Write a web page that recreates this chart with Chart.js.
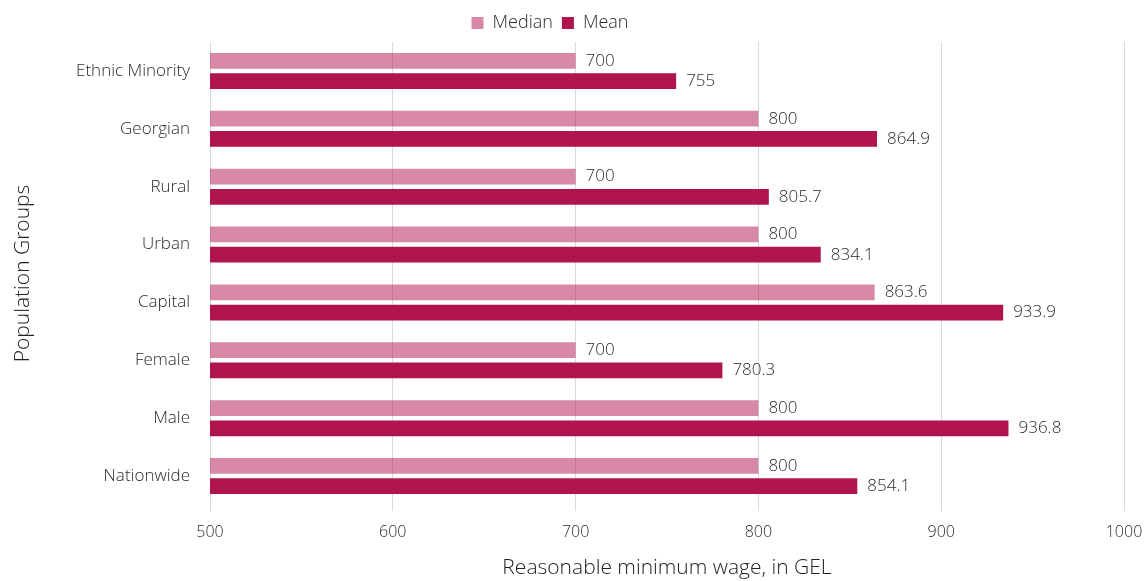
<!DOCTYPE html>
<html>
<head>
<meta charset="utf-8">
<script src="https://cdn.jsdelivr.net/npm/chart.js@4/dist/chart.umd.min.js"></script>
<style>
  html, body { margin: 0; padding: 0; background: #fff; }
  #wrap { width: 1146px; height: 581px; }
</style>
</head>
<body>
<div id="wrap"><canvas id="myChart"></canvas></div>
<script>
const groups = ["Ethnic Minority", "Georgian", "Rural", "Urban", "Capital", "Female", "Male", "Nationwide"];
const medianValues = [700, 800, 700, 800, 863.6, 700, 800, 800];
const meanValues = [755, 864.9, 805.7, 834.1, 933.9, 780.3, 936.8, 854.1];
const xTicks = [500, 600, 700, 800, 900, 1000];

const FONT = "'Open Sans', 'Noto Sans', sans-serif";

// writes each bar's value just past its end
const valueLabels = {
  id: "valueLabels",
  afterDatasetsDraw(chart) {
    const ctx = chart.ctx;
    ctx.save();
    ctx.font = "300 17px " + FONT;
    ctx.fillStyle = "#2b2b2b";
    ctx.textAlign = "left";
    ctx.textBaseline = "middle";
    chart.data.datasets.forEach((ds, i) => {
      chart.getDatasetMeta(i).data.forEach((bar, j) => {
        ctx.fillText(String(ds.data[j]), bar.x + 10, bar.y);
      });
    });
    ctx.restore();
  },
};

// nudge the legend a bit to the left of the canvas centre
const legendShift = {
  id: "legendShift",
  afterLayout(chart) {
    chart.legend.left -= 28;
    chart.legend.right -= 28;
  },
};

new Chart(document.getElementById("myChart").getContext("2d"), {
  type: "bar",
  data: {
    labels: groups,
    datasets: [
      {
        label: "Median",
        data: medianValues,
        backgroundColor: "rgba(176, 20, 80, 0.5)",
        categoryPercentage: 0.7,
        barPercentage: 0.78,
      },
      {
        label: "Mean",
        data: meanValues,
        backgroundColor: "#b0144f",
        categoryPercentage: 0.7,
        barPercentage: 0.78,
      },
    ],
  },
  options: {
    indexAxis: "y",
    responsive: true,
    maintainAspectRatio: false,
    animation: false,
    layout: { padding: { left: 10, right: 0, top: 5, bottom: 0 } },
    plugins: {
      legend: {
        position: "top",
        labels: {
          font: { family: FONT, size: 18, weight: 300 },
          color: "#2b2b2b",
          boxWidth: 12,
          boxHeight: 12,
          padding: 9,
        },
      },
      tooltip: { enabled: false },
    },
    scales: {
      x: {
        min: 500,
        max: 1000,
        afterBuildTicks(axis) {
          axis.ticks = xTicks.map((v) => ({ value: v }));
        },
        grid: { color: "#d9d9d9", drawTicks: true, tickLength: 6 },
        border: { display: false },
        ticks: {
          font: { family: FONT, size: 16, weight: 300 },
          color: "#2b2b2b",
          padding: 12,
          callback: (v) => String(v),
        },
        title: {
          display: true,
          text: "Reasonable minimum wage, in GEL",
          font: { family: FONT, size: 21, weight: 300 },
          color: "#222",
          padding: { top: 19, bottom: 0 },
        },
        afterFit(axis) {
          axis.height = 76;
          axis.paddingRight = 22;
        },
      },
      y: {
        grid: { display: false },
        border: { display: false },
        ticks: {
          font: { family: FONT, size: 17, weight: 300 },
          color: "#2b2b2b",
          padding: 12,
        },
        title: {
          display: true,
          text: "Population Groups",
          font: { family: FONT, size: 21, weight: 300 },
          color: "#222",
          padding: { top: 0, bottom: 8 },
        },
        afterFit(axis) { axis.width = 200; },
      },
    },
  },
  plugins: [valueLabels, legendShift],
});
</script>
</body>
</html>
